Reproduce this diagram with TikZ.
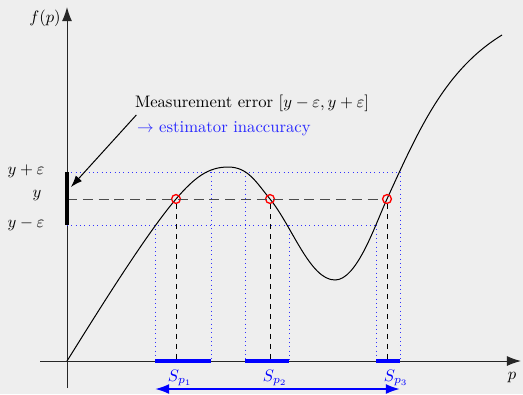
\documentclass[tikz,border=0pt]{standalone}
\usepackage{xcolor}
\usepackage{tikz}
\usetikzlibrary{arrows.meta, positioning, calc}
\definecolor{bggray}{RGB}{238,238,238}
\definecolor{estblue}{RGB}{40,40,255}
\tikzset{
  axis/.style={-{Latex[length=8.5pt,width=6pt]}, line width=0.6pt, draw=black!85},
  fcurve/.style={line width=0.6pt},
  hit/.style={circle, draw=red, line width=0.8pt, minimum size=5.3pt, inner sep=0pt},
  level/.style={dash pattern=on 6pt off 3.5pt, draw=black!70, line width=0.6pt},
  drop/.style={dashed, line width=0.6pt},
  band/.style={dotted, draw=blue!80, line width=0.6pt},
  interval/.style={draw=blue, line width=1.9pt},
  spread/.style={{Latex[length=8.5pt,width=6pt]}-{Latex[length=8.5pt,width=6pt]}, draw=blue, line width=1.2pt},
  pointer/.style={-{Latex[length=7pt,width=5pt]}, line width=0.6pt},
  lbl/.style={inner sep=1pt},
}

\begin{document}
\begin{tikzpicture}[x=0.0211cm, y=-0.0211cm]
\fill[bggray] (0,0) rectangle (523,394);
\useasboundingbox (0,0) rectangle (523,394);
% axes
\coordinate (O) at (67,361);
\coordinate (xs) at (40,361);
\coordinate (xe) at (521,361);
\coordinate (ys) at (67,388);
\coordinate (ye) at (67,7);
\draw[axis] (xs) -- (xe);
\draw[axis] (ys) -- (ye);
\node[lbl] (fp) at (45,18) {$f(p)$};
\node[lbl] (pl) at (512,378) {$p$};
% measured value and its error band
\coordinate (yp) at (67,172);
\coordinate (y0) at (67,199);
\coordinate (ym) at (67,225);
\node[lbl] (ypl) at (26,171) {$y+\varepsilon$};
\node[lbl] (y0l) at (37,196) {$y$};
\node[lbl] (yml) at (26,224) {$y-\varepsilon$};
% where the curve leaves the band
\coordinate (a1) at (155,225);
\coordinate (b1) at (211,172);
\coordinate (a2) at (245,172);
\coordinate (b2) at (289,225);
\coordinate (a3) at (376,225);
\coordinate (b3) at (400,172);
\draw[band] (yp) -- (b3);
\draw[band] (ym) -- (a3);
\foreach \c in {a1,b1,a2,b2,a3,b3} \draw[band] (\c) -- (\c |- O);
% f(p)
\draw[fcurve] (O) .. controls (97,313) and (146,234) .. (176,199)
  .. controls (194,178) and (208,167) .. (228,167)
  .. controls (248,167) and (256,182) .. (270,199)
  .. controls (292,226) and (310,280) .. (335,280)
  .. controls (357,280) and (375,225) .. (387,199)
  .. controls (419,129) and (445,70) .. (502,35);
% solutions
\node[hit] (h1) at (176,199) {};
\node[hit] (h2) at (270,199) {};
\node[hit] (h3) at (387,199) {};
\draw[level] (y0) -- (h3);
\foreach \h in {h1,h2,h3} \draw[drop] (\h) -- (\h |- O);
\draw[line width=2pt] (yp) -- (ym);
% estimated sets
\draw[interval] (a1 |- O) -- (b1 |- O);
\draw[interval] (a2 |- O) -- (b2 |- O);
\draw[interval] (a3 |- O) -- (b3 |- O);
\node[lbl, text=blue] (s1) at (180,378) {$S_{p_1}$};
\node[lbl, text=blue] (s2) at (275,378) {$S_{p_2}$};
\node[lbl, text=blue] (s3) at (396,378) {$S_{p_3}$};
\coordinate (spr) at (0,389);
\draw[spread] (a1 |- spr) -- (b3 |- spr);
% annotation
\node[lbl, anchor=west] (merr) at (133,103) {Measurement error $[y-\varepsilon, y+\varepsilon]$};
\node[lbl, anchor=west, text=estblue] (einacc) at (135,129) {$\rightarrow$ estimator inaccuracy};
\coordinate (barpt) at (71,187);
\draw[pointer] ([xshift=2pt,yshift=-1pt]merr.south west) -- (barpt);
\end{tikzpicture}
\end{document}
